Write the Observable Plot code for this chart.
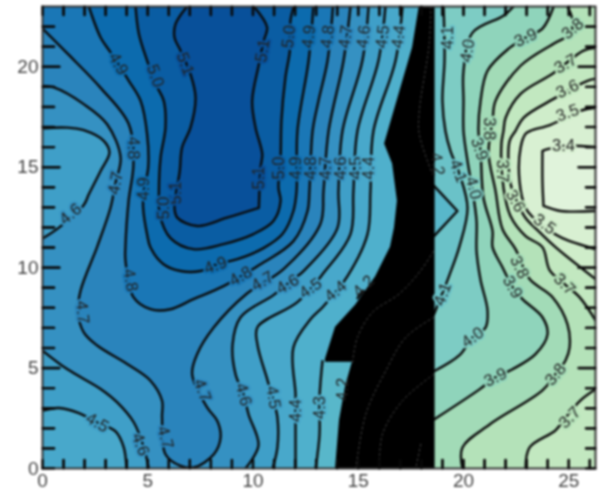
<!DOCTYPE html>
<html><head><meta charset="utf-8">
<style>html,body{margin:0;padding:0;background:#fff}svg{display:block;filter:blur(.8px)}</style>
<script src="https://cdn.jsdelivr.net/npm/d3@7"></script>
<script src="https://cdn.jsdelivr.net/npm/@observablehq/plot@0.6"></script>
</head><body><div id="chart"></div>
<script>
const X = 26.27, Y = 23;
const bandKeys = ["3.3","3.4","3.5","3.6","3.7","3.8","3.9","4.0","4.1","4.2","4.3","4.4","4.5","4.6","4.7","4.8","4.9","5.0","5.1"];
const bandColors = ["#e0f3db","#d8f0d2","#cfedca","#c2e8c0","#b4e2b9","#a2dbb7","#8fd4bb","#7dccc4","#6ac2c8","#58b7ca","#4fb0cc","#48a8cb","#3f9fc8","#3591c2","#2a84bc","#1a77b6","#0c6bae","#0a5da3","#08509a"];

// contour lines: [x, y]
const c51 = [[6.87,23],[6.32,22.13],[6.27,21.46],[6.56,20.8],[7.03,19.63],[7.27,18.47],[7.03,16.97],[6.63,15.98],[6.52,14.81],[6.27,12.98],[6.4,12.49],[7.35,12.07],[8.77,12.49],[10.28,12.98],[10.28,12.98],[10.36,14.98],[10.44,15.64],[10.12,16.97],[9.96,18.3],[10.28,20.13],[10.51,21.3],[10.67,21.96],[10.04,23]];
const c50 = [[4.42,23],[4.58,21.63],[4.97,20.3],[5.37,19.14],[5.76,18.3],[5.84,16.97],[5.61,15.48],[5.53,13.82],[5.57,12.65],[6.08,11.47],[7.17,10.92],[8.6,11.17],[10.02,11.67],[10.97,12.32],[11.31,13.32],[11.21,13.97],[11.31,15.48],[11.35,17.31],[11.54,19.47],[11.75,20.8],[11.78,22.3],[11.94,23]];
const c49 = [[2.2,23],[2.76,21.46],[3.23,20.72],[4.1,19.3],[4.66,18.3],[4.97,16.64],[5.02,14.98],[4.81,13.82],[4.78,12.98],[4.97,11.65],[5.13,11.0],[5.75,10.17],[6.56,9.83],[7.5,9.83],[8.31,10.17],[9.26,10.42],[10.5,10.97],[11.4,11.67],[11.92,12.82],[12.07,13.82],[12.11,16.8],[12.64,20.3],[12.87,23]];
const c48 = [[0,21.9],[1.19,20.65],[2.76,18.95],[4.09,17.16],[4.32,15.16],[4.09,13.32],[3.94,11.07],[3.94,10.37],[4.32,8.53],[5.13,7.93],[6.08,7.93],[7.17,8.43],[8.6,9.08],[10.21,10.07],[11.92,11.32],[12.59,12.82],[12.68,13.82],[12.83,16.8],[13.11,18.3],[13.54,20.3],[13.8,23]];
const c47 = [[0,19.05],[0.54,18.97],[1.96,18.14],[3.07,17.14],[3.71,15.48],[3.47,14.23],[3.23,12.98],[2.6,11.05],[1.81,8.86],[1.68,7.78],[1.96,6.78],[2.6,6.12],[4.02,5.2],[5.13,4.37],[5.68,3.37],[5.68,2.54],[5.84,0.71],[6.56,0.13],[7.19,0.05],[8.14,0.71],[8.46,1.55],[8.3,2.38],[7.82,3.04],[7.11,4.7],[7.35,5.7],[8.14,7.03],[9.7,8.7],[11.45,9.93],[13.2,12.17],[13.35,13.82],[13.59,16.8],[14.3,20.3],[14.63,23]];
const c46 = [[9.64,0],[10.26,1.15],[9.79,2.69],[9.55,3.69],[9.17,4.69],[9.03,6.18],[9.41,7.53],[10.97,8.63],[11.92,9.43],[12.4,9.83],[14.01,11.97],[14.06,13.82],[14.25,16.8],[15.2,20.32],[15.49,23]];
const c45 = [[10.93,0],[11.16,1.05],[11.16,2.54],[10.97,3.39],[10.69,4.39],[10.21,6.18],[10.21,7.03],[12.11,8.28],[13.35,9.73],[14.63,11.67],[14.77,13.82],[14.96,16.8],[15.96,20.3],[16.29,23]];
const c44 = [[12.02,0],[12.02,2.39],[12.02,3.69],[11.92,6.03],[12.73,7.43],[13.35,8.08],[14.49,9.58],[15.44,11.67],[15.58,13.82],[15.72,16.8],[16.77,20.3],[17.1,23]];
const c43 = [[12.97,0],[13.16,1.7],[13.16,3.54],[13.3,5.34]];
const c43hidden = [[14.5,6.5],[16.5,10],[17.2,13],[17,16.2],[18.2,23]];
const c42stub = [[14.96,8.48],[15.25,8.83]];
const c42v = [[18.6,11.57],[19.71,12.82],[19.71,12.82],[18.6,14.07]];
const c46pocket = [[0,16.94],[1.17,16.97],[1.96,16.84],[2.91,16.31],[3.18,15.73],[2.76,14.81],[2.2,13.65],[1.96,13.12],[0.78,11.99],[0,11.45]];
const c46low = [[0,5.87],[1.17,4.95],[2.76,3.96],[3.55,3.29],[4.34,2.29],[4.81,1.05],[5.05,0]];
const c45low = [[0,2.88],[0.78,3.01],[1.73,2.76],[2.6,2.29],[3.47,1.85],[3.86,1.05],[3.99,0]];
const c41 = [[19.05,23],[19.1,20.4],[19.0,18.3],[19.14,16.8],[19.38,15.81],[19.81,14.66],[20.19,12.97],[19.81,11.07],[19.33,9.63],[18.6,7.68]];
const c40 = [[22.38,23],[21.9,22.54],[20.43,21.7],[20.0,19.8],[20.0,18.3],[20.0,16.8],[20.19,15.31],[20.43,13.82],[20.62,12.32],[20.62,10.82],[20.81,9.38],[21.14,7.88],[21.05,7.03],[20.43,6.53],[19.81,5.64],[18.6,4.84]];
const c39 = [[24.28,23],[23.75,21.9],[22.95,21.45],[22.14,20.9],[21.14,19.8],[20.81,18.3],[20.71,16.8],[20.81,15.81],[20.95,13.47],[21.38,11.82],[21.38,11.02],[21.85,10.02],[22.33,9.03],[22.8,8.43],[23.75,7.53],[23.99,6.68],[23.42,5.69],[22.33,4.94],[21.52,4.54],[20.76,3.94],[18.6,2.44]];
const c38 = [[24.94,23],[25.18,22.3],[25.08,21.65],[24.28,21.15],[22.71,20.05],[21.52,18.3],[21.38,17.31],[21.19,15.71],[21.52,13.82],[21.85,11.92],[22.47,10.92],[23.14,9.43],[24.23,8.53],[24.94,7.18],[25.04,6.03],[24.85,5.39],[24.37,4.69],[23.75,3.89],[21.24,2.19],[19.95,1.05],[19.95,0]];
const c37top = [[26.27,20.95],[25.7,20.8],[24.23,19.65],[22.71,18.65],[22.0,17.46],[21.9,16.81],[21.8,16.16],[21.9,13.97],[22.23,12.57],[22.95,11.57],[23.75,11.02],[24.09,9.88],[24.8,9.18],[25.51,8.53],[26.27,7.38]];
const c37low = [[26.27,3.94],[25.56,3.39],[24.85,2.54],[24.37,1.9],[23.14,1.05],[22.95,0]];
const c36 = [[26.27,19.4],[25.89,19.3],[24.28,18.4],[22.85,17.46],[22.47,16.81],[22.19,16.31],[22.23,14.21],[22.57,13.22],[22.95,12.47],[23.66,11.72],[24.37,11.02],[26.27,9.43]];
const c35 = [[26.27,17.96],[25.56,17.81],[24.13,17.11],[23.18,16.81],[22.95,16.66],[22.71,15.96],[22.66,14.31],[22.95,12.97],[23.33,12.47],[23.9,11.97],[24.7,11.47],[26.27,10.92]];
const c34 = [[26.27,16.01],[24.75,16.06],[24.04,15.91],[23.75,15.81],[23.75,15.81],[23.75,14.31],[23.8,13.07],[23.8,13.07],[24.61,12.82],[26.27,12.82]];

// masked black region
const blackY    = [23,20.95,16.16,15.16,13.32,11.97,11.02,9.53,8.13,7.03,5.44,5.29,5.29,4.04,2.39,0];
const blackLeft = [17.9,17.58,16.25,16.63,16.86,16.72,16.53,15.82,14.87,13.92,13.44,13.44,14.72,14.39,14.11,13.92];
const blackRight = 18.65;

// faint traces inside the black region
const faintA = [[14.73,5.29],[14.96,6.53],[15.68,7.78],[16.94,8.69],[17.97,9.86],[18.6,10.86]];
const faintB = [[18.6,7.53],[17.26,6.53],[16.31,4.87],[15.36,2.71],[14.89,0]];
const faintC = [[18.6,4.7],[17.1,3.37],[16.15,1.71],[16,0]];
const faintD = [[17.97,1.21],[17.73,0]];
const faintE = [[18.45,23],[18.37,21.13],[17.9,17.8],[17.9,16.64],[18.53,14.65]];

// contour labels: [text, x, y, rotation]
const labels = [
["5.0",11.69,21.5,-83],["4.9",12.64,21.5,-83],["4.8",13.54,21.5,-83],["4.7",14.39,21.5,-83],["4.6",15.25,21.5,-83],["4.5",16.15,21.5,-83],["4.4",16.91,21.5,-83],
["5.0",11.21,14.96,-90],["4.9",12.02,14.96,-90],["4.8",12.73,14.96,-90],["4.7",13.44,14.96,-90],["4.6",14.16,14.96,-90],["4.5",14.87,14.96,-90],["4.4",15.49,14.96,-90],
["5.1",10.26,14.46,-90],["5.1",10.45,20.8,-80],["5.1",6.32,13.72,-90],["5.0",5.75,12.97,-90],
["4.9",3.61,20.15,60],["5.0",5.37,19.55,70],["5.1",6.79,20.15,70],["4.8",4.32,15.96,90],["4.9",4.8,13.92,-90],["4.7",3.47,14.21,-80],["4.6",1.33,12.67,-40],
["4.8",4.18,9.38,80],["4.7",1.9,7.78,85],["4.5",2.61,2.29,30],["4.6",4.66,1.2,70],["4.7",5.84,1.55,75],["4.7",7.6,3.89,70],["4.6",9.55,3.69,75],["4.5",10.97,3.54,80],["4.4",12.02,2.89,-90],
["4.9",8.22,10.12,-20],["4.8",9.41,9.58,-30],["4.7",10.45,9.33,-30],["4.6",11.64,9.18,-30],["4.5",12.73,8.98,-35],["4.4",13.92,8.83,-40],["4.3",13.16,3.04,-90],
["4.1",19,8.68,-70],["4.0",20.43,6.53,-35],["3.9",21.52,4.54,-25],["3.9",22.33,9.03,60],["3.8",22.66,10.02,65],["3.7",24.8,9.18,45],["3.8",24.37,4.69,-50],["3.7",25.04,2.54,-45],
["4.1",19.24,21.45,-90],["4.0",20.19,20.8,-80],["3.9",22.95,21.45,-25],["3.8",25.18,21.9,-40],["3.7",24.85,20.15,-30],["3.6",24.94,18.9,-25],["3.5",24.94,17.71,-20],["3.4",24.75,16.06,0],
["3.8",21.24,16.91,90],["3.9",20.76,15.91,70],["4.1",19.76,14.81,70],["4.0",20.48,13.97,75],["3.7",21.85,14.81,90],["3.6",22.47,13.32,60],["3.5",23.85,12.17,35]
];
const labelsNoHalo = [["4.2",15.25,9.08,-45],["4.2",14.25,3.94,-90],["4.2",18.76,15.16,80]];

const xTickValues = [0,1,2,3,4,5,6,7,8,9,10,11,12,13,14,15,16,17,18,19,20,21,22,23,24,25,26];
const yMinor = [0,1,2,3,4,6,7,8,9,11,12,13,14,16,17,18,19,21,22];
const yMajor = [5,10,15,20];
const xLabels = [0,5,10,15,20,25];
const yLabels = [0,5,10,15,20];

const TL=[0,Y],TR=[X,Y],BL=[0,0],BR=[X,0];
const regionDefs = [
 ["3.3",[[BL,BR,TR,TL]]],
 ["3.4",[c34,[BR,BL,TL,TR]]],
 ["3.5",[c35,[BR,BL,TL,TR]]],
 ["3.6",[c36,[BR,BL,TL,TR]]],
 ["3.7",[c37top,c37low,[BL,TL,TR]]],
 ["3.8",[c38,[BL,TL]]],
 ["3.9",[c39,[[18.6,0],BL,TL]]],
 ["4.0",[c40,[[18.6,0],BL,TL]]],
 ["4.1",[c41,[[18.6,0],BL,TL]]],
 ["4.2",[[BL,[18.6,0]],c42v,[[18.6,Y],TL]]],
 ["4.3",[c43,c43hidden,[TL,BL]]],
 ["4.4",[c44,[TL,BL]]],
 ["4.5",[c45,[TL,BL]]],
 ["4.6",[c46,[TL,BL]]],
 ["4.5",[c46pocket]],
 ["4.5",[c46low,[BL]]],
 ["4.4",[c45low,[BL]]],
 ["4.7",[c47,[TL]]],
 ["4.8",[c48,[TL]]],
 ["4.9",[c49]],
 ["5.0",[c50]],
 ["5.1",[c51]]
];
const regionRows = regionDefs.flatMap(([key,parts],id)=>parts.flatMap(pts=>{
  // doubled ends keep the corners between the parts of an outline sharp
  const p = [pts[0],...pts,pts[pts.length-1]];
  return p.map(([x,y])=>({x,y,id,key}));
}));

// inward tick marks on all four sides, as two-point segments
const tickLen = {bottomTop:0.42, left:0.55, leftLong:0.8, right:0.45, rightLong:0.8};
const tickSegments = [
  ...xTickValues.flatMap(x=>[[[x,0],[x,tickLen.bottomTop]],[[x,Y],[x,Y-tickLen.bottomTop]]]),
  ...yMinor.flatMap(y=>[[[0,y],[tickLen.left,y]],[[X,y],[X-tickLen.right,y]]]),
  ...yMajor.flatMap(y=>[[[0,y],[tickLen.leftLong,y]],[[X,y],[X-tickLen.rightLong,y]]])
];

const contourLines = [c51,c50,c49,c48,c47,c46,c45,c44,c43,c42stub,c42v,c46pocket,c46low,c45low,c41,c40,c39,c38,c37top,c37low,c36,c35,c34];
const lineRows = [...contourLines,...tickSegments].flatMap((pts,id)=>pts.map(([x,y])=>({x,y,id})));
const tickRows = tickSegments.flatMap((pts,id)=>pts.map(([x,y])=>({x,y,id})));
const faintRows = [faintA,faintB,faintC,faintD,faintE].flatMap((pts,id)=>pts.map(([x,y])=>({x,y,id})));
const blackRows = blackY.map((y,i)=>({y,x1:blackLeft[i],x2:blackRight}));
const labelRows = labels.map(([text,x,y,rot])=>({text,x,y,rot}));
const plainRows = labelsNoHalo.map(([text,x,y,rot])=>({text,x,y,rot}));
const labelFont = {fontSize:16.5,fontFamily:"Liberation Sans",textAnchor:"middle",lineAnchor:"middle",fill:"#222"};

const chart = Plot.plot({
  width:604,height:493,marginLeft:42,marginRight:9,marginTop:6,marginBottom:25,
  style:{background:"#fff"},
  x:{domain:[0,X],label:null},
  y:{domain:[0,Y],label:null},
  color:{type:"ordinal",domain:bandKeys,range:bandColors},
  marks:[
    Plot.line(regionRows,{x:"x",y:"y",z:"id",fill:"key",stroke:null,strokeWidth:0,curve:"catmull-rom",clip:"frame"}),
    Plot.line(lineRows,{x:"x",y:"y",z:"id",stroke:"#0a0a0a",strokeWidth:2.4,curve:"catmull-rom",clip:"frame"}),
    Plot.areaX(blackRows,{y:"y",x1:"x1",x2:"x2",fill:"#000",curve:"linear"}),
    Plot.line(faintRows,{x:"x",y:"y",z:"id",stroke:"#555",strokeWidth:.8,strokeDasharray:"2,3",curve:"catmull-rom"}),
    Plot.text(labelRows,{x:"x",y:"y",text:"text",rotate:"rot",stroke:"text",strokeWidth:4.5,paintOrder:"stroke",...labelFont}),
    Plot.text(plainRows,{x:"x",y:"y",text:"text",rotate:"rot",...labelFont}),
    Plot.frame({stroke:"#333",strokeWidth:2}),
    Plot.axisX({ticks:xLabels,tickSize:0,tickPadding:5,fontSize:19,fontFamily:"Liberation Sans",color:"#444",label:null}),
    Plot.axisY({ticks:yLabels,tickSize:0,tickPadding:4,fontSize:19,fontFamily:"Liberation Sans",color:"#444",label:null}),
    Plot.line(tickRows,{x:"x",y:"y",z:"id",stroke:"#0a0a0a",strokeWidth:2.2,curve:"linear"})
  ]
});
document.getElementById("chart").append(chart);
</script></body></html>
